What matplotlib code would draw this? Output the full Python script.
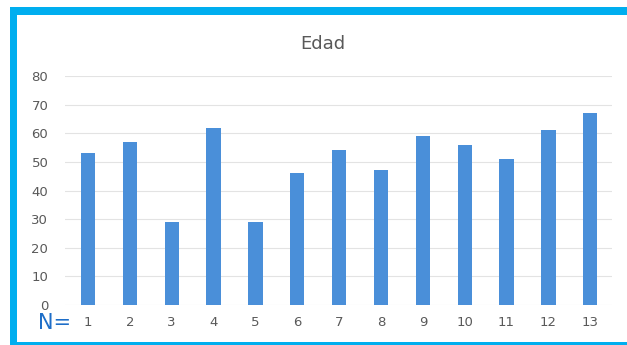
import matplotlib.pyplot as plt
from matplotlib.patches import Rectangle
from matplotlib.lines import Line2D

# data
categories = [str(i) for i in range(1, 14)]
ages = [53, 57, 29, 62, 29, 46, 54, 47, 59, 56, 51, 61, 67]
yticks = [0, 10, 20, 30, 40, 50, 60, 70, 80]

bar_color = "#4A8FD9"
border_color = "#00AEEF"
text_gray = "#595959"

W, H = 627, 345
fig = plt.figure(figsize=(W / 100, H / 100), dpi=100)
fig.patch.set_facecolor("white")

# cyan frame: thick top and left, thin bottom, open on the right
fig.add_artist(Rectangle((10 / W, 1 - 15 / H), 1.0, 8 / H, transform=fig.transFigure,
                         color=border_color, lw=0))
fig.add_artist(Rectangle((10 / W, 0), 7 / W, 1 - 7 / H, transform=fig.transFigure,
                         color=border_color, lw=0))
fig.add_artist(Rectangle((10 / W, 0), 1.0, 3 / H, transform=fig.transFigure,
                         color=border_color, lw=0))

ax = fig.add_axes([65 / W, 1 - 305 / H, (612 - 65) / W, (305 - 76) / H])
x = list(range(1, len(ages) + 1))
ax.bar(x, ages, width=0.34, color=bar_color, zorder=3)

ax.set_xlim(0.45, 13.52)
ax.set_ylim(0, 80)
ax.set_yticks(yticks)
ax.set_xticks(x)
ax.set_xticklabels(categories)
ax.grid(axis="y", color="#E3E3E3", linewidth=0.8, zorder=0)
for s in ax.spines.values():
    s.set_visible(False)
ax.tick_params(length=0, colors=text_gray, labelsize=9.5)
ax.tick_params(axis="y", pad=12)
ax.tick_params(axis="x", pad=8)

fig.text(323 / W, 1 - 44 / H, "Edad", ha="center", va="center",
         fontsize=13, color=text_gray)
fig.text(38 / W, 1 - 323 / H, "N=", ha="left", va="center",
         fontsize=15, color="#1E6EC8")

fig.savefig("out.png", dpi=100)
